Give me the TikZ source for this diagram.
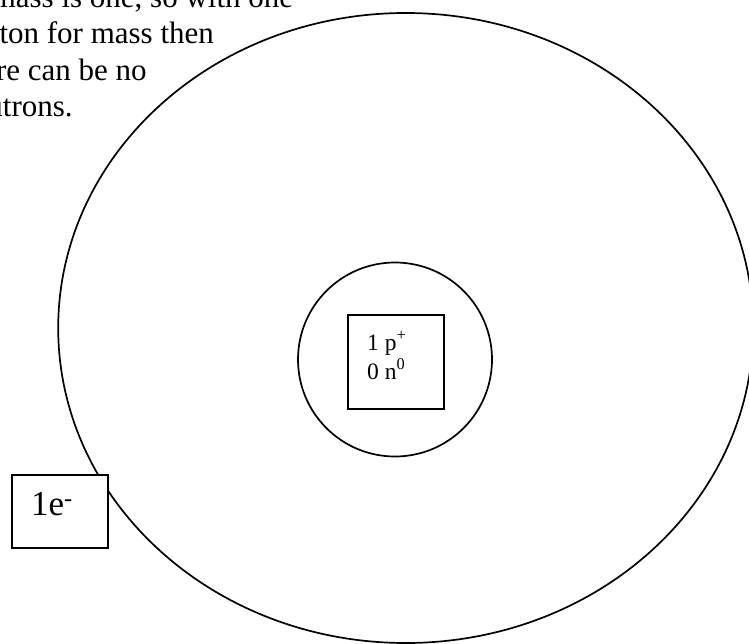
\documentclass[tikz,border=0pt]{standalone}
\usepackage{fontspec}
\setmainfont{Liberation Serif}
\usetikzlibrary{shapes.geometric}
\begin{document}
\begin{tikzpicture}[x=1pt,y=-1pt,
  outline/.style={draw=black,line width=1.7pt},
  notetext/.style={anchor=base west,inner sep=0pt,font=\fontsize{31}{36}\selectfont},
  smalltext/.style={anchor=base west,inner sep=0pt,font=\fontsize{23.5}{28}\selectfont},
  bigtext/.style={anchor=base west,inner sep=0pt,font=\fontsize{35}{40}\selectfont},
  boxstyle/.style={outline,fill=white,rectangle,inner sep=0pt,anchor=north west}]
\useasboundingbox (0,0) rectangle (749,644);
\clip (0,0) rectangle (749,644);
% orbit
\node[outline,ellipse,inner sep=0pt,minimum width=695pt,minimum height=630pt] (orbit) at (405.7,328) {};
% nucleus
\node[outline,circle,inner sep=0pt,minimum size=194pt] (nucleus) at (395,359.5) {};
\node[boxstyle,minimum width=96pt,minimum height=94pt] (core) at (347,314) {};
\node[smalltext] (protons) at (367,350) {1 p\textsuperscript{+}};
\node[smalltext] (neutrons) at (367,379) {0 n\textsuperscript{0}};
% electron box
\node[boxstyle,minimum width=96pt,minimum height=73pt] (ebox) at (11,474) {};
\node[bigtext] (electron) at (31,515.5) {1e\textsuperscript{-}};
% note text (cut by the page edge, as in the reference)
\node[notetext] (line1) at (-8.4,7.5) {mass is one, so with one};
\node[notetext] (line2) at (-42,43.8) {proton for mass then};
\node[notetext] (line3) at (-42,80.1) {there can be no};
\node[notetext] (line4) at (-42,116.4) {neutrons.};
\end{tikzpicture}
\end{document}
